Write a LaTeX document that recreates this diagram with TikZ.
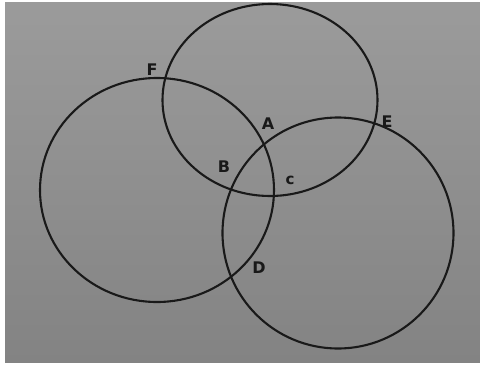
\documentclass[tikz,border=0pt]{standalone}
\usepackage{fontspec}
\setmainfont{DejaVu Sans}
\usetikzlibrary{shapes.geometric}
\definecolor{papertop}{HTML}{9B9B9B}
\definecolor{paperbot}{HTML}{838383}
\begin{document}
\begin{tikzpicture}[x=1pt,y=-1pt,
  ring/.style={ellipse,draw=black!90,line width=2.1pt,inner sep=0pt},
  lbl/.style={font=\bfseries\fontsize{16}{16}\selectfont,text=black!90,inner sep=0pt}]
\useasboundingbox (0,0) rectangle (480,365);
\fill[white] (0,0) rectangle (480,365);
\shade[top color=papertop, bottom color=paperbot] (5,2) rectangle (480,362);
\node[ring,minimum width=234pt,minimum height=224pt] (left) at (157,190) {};
\node[ring,minimum width=215pt,minimum height=192pt] (top) at (270,100) {};
\node[ring,minimum width=231pt,minimum height=231pt] (right) at (338,233) {};
\node[lbl] (F) at (152,70) {F};
\node[lbl] (A) at (268,124) {A};
\node[lbl] (E) at (387,122) {E};
\node[lbl] (B) at (224,167) {B};
\node[lbl,font=\bfseries\fontsize{15}{15}\selectfont] (C) at (290,180) {c};
\node[lbl] (D) at (259,268) {D};
\end{tikzpicture}
\end{document}
